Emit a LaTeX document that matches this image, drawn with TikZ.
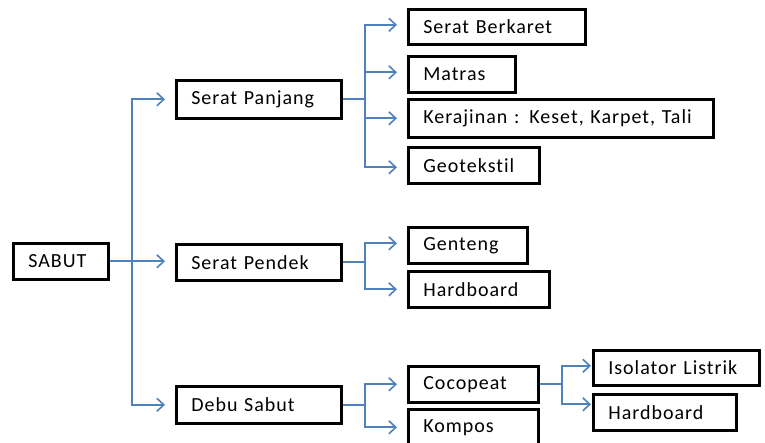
\documentclass[tikz,border=0pt]{standalone}
\usepackage{fontspec}
\setmainfont{Carlito}[Ligatures=NoCommon,LetterSpace=5]
\usetikzlibrary{arrows.meta}
\definecolor{lblue}{RGB}{79,129,189}
\begin{document}
\begin{tikzpicture}[x=1pt,y=-1pt,
  box/.style={draw=black,line width=2.6pt,anchor=north west,inner xsep=15pt,inner ysep=0pt,
    font=\fontsize{20}{23}\selectfont,align=left},
  arr/.style={draw=lblue,line width=1.8pt,shorten >=10pt,
    -{Straight Barb[length=7pt,width=13pt,line width=1.6pt]}},
  arrn/.style={arr,shorten >=1pt}
]
\useasboundingbox (0,0) rectangle (765,442);
\clip (0,0) rectangle (765,442);

\node[box,text width=65pt,minimum height=36pt] (sabut) at (12,242) {\mbox{SABUT}};
\node[box,text width=135pt,minimum height=38pt] (spanjang) at (175,79) {\mbox{Serat Panjang}};
\node[box,text width=135pt,minimum height=36pt] (spendek) at (175,243) {\mbox{Serat Pendek}};
\node[box,text width=135pt,minimum height=37pt] (debu) at (175,385) {\mbox{Debu Sabut}};

\node[box,text width=147pt,minimum height=35pt] (berkaret) at (407,8) {\mbox{Serat Berkaret}};
\node[box,text width=77pt,minimum height=36pt] (matras) at (407,55) {\mbox{Matras}};
\node[box,text width=275pt,minimum height=38pt] (kerajinan) at (407,98) {\mbox{Kerajinan : Keset, Karpet, Tali}};
\node[box,text width=101pt,minimum height=36pt] (geo) at (407,146) {\mbox{Geotekstil}};

\node[box,text width=89pt,minimum height=36pt] (genteng) at (407,226) {\mbox{Genteng}};
\node[box,text width=111pt,minimum height=36pt] (hbA) at (407,270) {\mbox{Hardboard}};

\node[box,text width=100pt,minimum height=36pt] (cocopeat) at (407,365) {\mbox{Cocopeat}};
\node[box,text width=100pt,minimum height=36pt] (kompos) at (407,408) {\mbox{Kompos}};

\node[box,text width=136pt,minimum height=35pt] (isolator) at (592,349) {\mbox{Isolator Listrik}};
\node[box,text width=113pt,minimum height=36pt] (hbB) at (592,393) {\mbox{Hardboard}};

% main trunk
\draw[arr] (sabut.east) -- ++(22,0) |- (spanjang.west);
\draw[arr] (sabut.east) -- (spendek.west |- sabut.east);
\draw[arr] (sabut.east) -- ++(22,0) |- (debu.west);

% serat panjang
\draw[arr] (spanjang.east) -- ++(22,0) |- ([yshift=2pt]berkaret.west);
\draw[arr] (spanjang.east) -- ++(22,0) |- ([yshift=2pt]matras.west);
\draw[arr] (spanjang.east) -- ++(22,0) |- (kerajinan.west);
\draw[arr] (spanjang.east) -- ++(22,0) |- ([yshift=-2pt]geo.west);

% serat pendek
\draw[arr] (spendek.east) -- ++(22,0) |- ([yshift=2pt]genteng.west);
\draw[arr] (spendek.east) -- ++(22,0) |- (hbA.west);

% debu sabut
\draw[arr] (debu.east) -- ++(22,0) |- (cocopeat.west);
\draw[arr] (debu.east) -- ++(22,0) |- (kompos.west);

% cocopeat
\draw[arrn] (cocopeat.east) -- ++(22,0) |- ([yshift=2pt]isolator.west);
\draw[arrn] (cocopeat.east) -- ++(22,0) |- ([yshift=8pt]hbB.west);
\end{tikzpicture}
\end{document}
